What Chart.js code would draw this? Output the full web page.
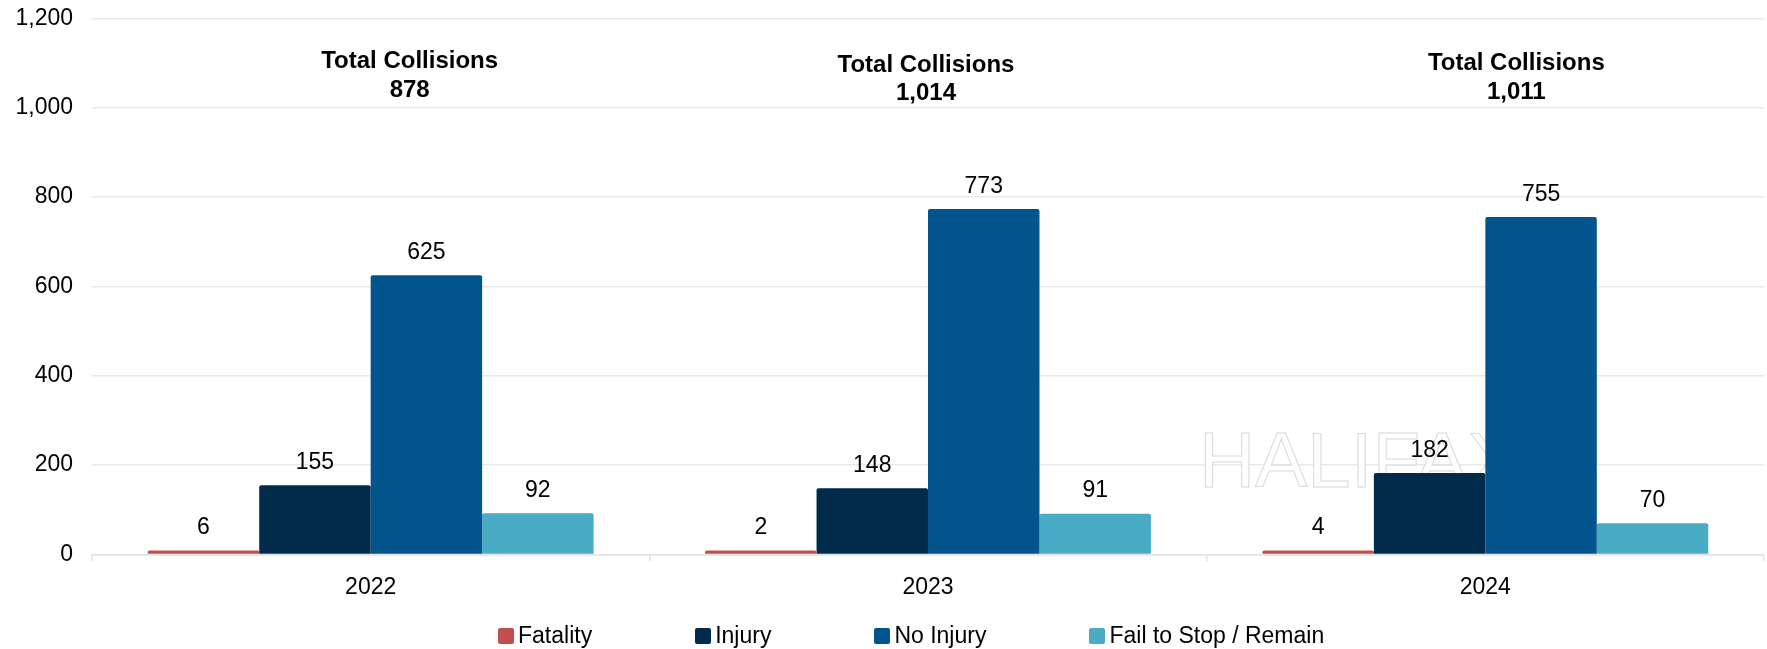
<!DOCTYPE html>
<html>
<head>
<meta charset="utf-8">
<script src="https://cdn.jsdelivr.net/npm/chart.js@4"></script>
<style>
  html, body { margin: 0; padding: 0; background: #fff; }
  #wrap { position: relative; width: 1767px; height: 649px; }
  #legend { position: absolute; left: 498px; top: 622px; display: flex; gap: 103px;
    font: 23px Arial, "Liberation Sans", sans-serif; color: #000; white-space: nowrap; }
  #legend .item { display: flex; align-items: center; }
  #legend .box { width: 16px; height: 16px; border-radius: 2px; margin-right: 4px; }
</style>
</head>
<body>
<div id="wrap">
  <canvas id="chart"></canvas>
  <div id="legend"></div>
</div>
<script>
// data
const years = ['2022', '2023', '2024'];
const fatality = [6, 2, 4];
const injury = [155, 148, 182];
const noInjury = [625, 773, 755];
const failToStop = [92, 91, 70];
const seriesNames = ['Fatality', 'Injury', 'No Injury', 'Fail to Stop / Remain'];
const seriesColors = ['#C0504D', '#012B4A', '#02558C', '#4AABC5'];
const yTicksMax = 1200;
const yStep = 200;

const FONT = 'Arial, "Liberation Sans", sans-serif';
const totals = years.map((_, i) => fatality[i] + injury[i] + noInjury[i] + failToStop[i]);
const fmt = v => v.toLocaleString('en-US');

// value labels above bars + "Total Collisions" headers
const labelsPlugin = {
  id: 'labels',
  beforeDatasetsDraw(chart) {
    // faint outlined watermark behind the 2024 bars
    const { ctx } = chart;
    ctx.save();
    ctx.font = '78px ' + FONT;
    ctx.textAlign = 'left';
    ctx.textBaseline = 'alphabetic';
    ctx.fillStyle = '#fff';
    ctx.strokeStyle = '#d9d9d9';
    ctx.lineWidth = 1;
    ctx.fillText('HALIFAX', 1199, 487);
    ctx.strokeText('HALIFAX', 1199, 487);
    ctx.restore();
  },
  afterDatasetsDraw(chart) {
    const { ctx, scales } = chart;
    ctx.save();
    ctx.fillStyle = '#000';
    ctx.textAlign = 'center';
    ctx.textBaseline = 'alphabetic';
    ctx.font = '23px ' + FONT;
    chart.data.datasets.forEach((ds, di) => {
      chart.getDatasetMeta(di).data.forEach((bar, i) => {
        ctx.fillText(fmt(ds.data[i]), bar.x, bar.y - 16.5);
      });
    });
    // the header boxes sit a little off-centre in the original
    const dx = [39, -2, 31];
    const dy = [0, 3.5, 2];
    ctx.font = 'bold 24px ' + FONT;
    years.forEach((y, i) => {
      const x = scales.x.getPixelForValue(i) + dx[i];
      const top = scales.y.getPixelForValue(1088) + dy[i];
      ctx.fillText('Total Collisions', x, top);
      ctx.fillText(fmt(totals[i]), x, top + 28.5);
    });
    ctx.restore();
  }
};

const seriesData = [fatality, injury, noInjury, failToStop];

const chart = new Chart(document.getElementById('chart'), {
  type: 'bar',
  data: {
    labels: years,
    datasets: seriesData.map((d, i) => ({
      label: seriesNames[i],
      data: d,
      backgroundColor: seriesColors[i],
      borderRadius: 2,
      borderSkipped: 'start',
      categoryPercentage: 0.8,
      barPercentage: 1.0,
      minBarLength: 4,
    })),
  },
  options: {
    responsive: true,
    maintainAspectRatio: false,
    animation: false,
    layout: { padding: { top: 18.3, right: 3, left: 0, bottom: 0 } },
    plugins: { legend: { display: false }, tooltip: { enabled: false } },
    scales: {
      x: {
        grid: { display: true, drawOnChartArea: false, drawTicks: true, tickLength: 7, color: '#e3e3e3', lineWidth: 1.5 },
        border: { display: true, color: '#e3e3e3', width: 1.5 },
        ticks: { color: '#000', font: { size: 23, family: FONT }, padding: 12 },
        afterFit: s => { s.height = 94.6; },
      },
      y: {
        min: 0,
        max: yTicksMax,
        ticks: { stepSize: yStep, color: '#000', font: { size: 23, family: FONT }, padding: 19 },
        grid: { color: '#e9e9e9', lineWidth: 1.5, drawTicks: false },
        border: { display: false },
        afterFit: s => { s.width = 92; s.paddingTop = 0; s.paddingBottom = 0; },
      },
    },
  },
  plugins: [labelsPlugin],
});

// html legend built from the chart's datasets
const legend = document.getElementById('legend');
chart.data.datasets.forEach(ds => {
  const item = document.createElement('div');
  item.className = 'item';
  const box = document.createElement('span');
  box.className = 'box';
  box.style.background = ds.backgroundColor;
  const txt = document.createElement('span');
  txt.textContent = ds.label;
  item.appendChild(box);
  item.appendChild(txt);
  legend.appendChild(item);
});
</script>
</body>
</html>
